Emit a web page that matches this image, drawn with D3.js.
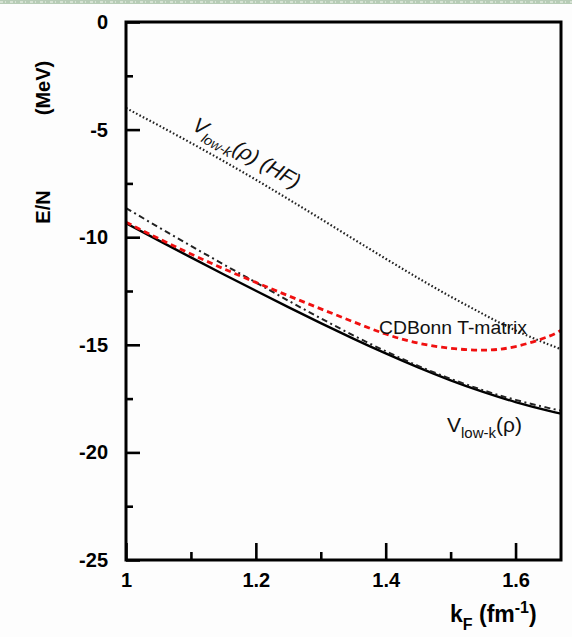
<!DOCTYPE html>
<html>
<head>
<meta charset="utf-8">
<script src="https://cdn.jsdelivr.net/npm/d3@7/dist/d3.min.js"></script>
<style>
  html, body { margin: 0; padding: 0; background: #fdfdfd; }
  svg { display: block; }
  text { font-family: "Liberation Sans", Arial, sans-serif; }
</style>
</head>
<body>
<svg id="chart" width="572" height="637"></svg>
<script>
// ---- data ----
const kF = [1.0, 1.05, 1.1, 1.15, 1.2, 1.25, 1.3, 1.35, 1.4, 1.45, 1.5, 1.55, 1.6, 1.65, 1.67];
const hfVlowk   = [-4.0, -4.8, -5.62, -6.46, -7.33, -8.23, -9.15, -10.08, -11.0, -11.9, -12.76, -13.57, -14.33, -14.97, -15.2];
const vlowk     = [-9.35, -10.15, -10.94, -11.72, -12.49, -13.25, -13.99, -14.71, -15.4, -16.05, -16.65, -17.19, -17.66, -18.06, -18.2];
const vlowkAlt  = [-8.65, -9.53, -10.4, -11.26, -12.1, -12.95, -13.77, -14.56, -15.3, -15.98, -16.58, -17.11, -17.56, -17.93, -18.06];
const cdbonnT   = [-9.3, -10.06, -10.78, -11.46, -12.1, -12.72, -13.33, -13.93, -14.5, -14.92, -15.16, -15.25, -15.08, -14.62, -14.32];

const xMajorTicks = [1, 1.2, 1.4, 1.6];
const xMinorTicks = [1.1, 1.3, 1.5];
const yMajorTicks = [0, -5, -10, -15, -20, -25];
const yMinorTicks = [-2.5, -7.5, -12.5, -17.5, -22.5];

// ---- layout ----
const svg = d3.select("#chart");
const L = 126, R = 561, T = 22, B = 560;
const x = d3.scaleLinear().domain([1, 1.67]).range([L, R]);
const y = d3.scaleLinear().domain([-25, 0]).range([B, T]);

// top decorative strip
const strip = svg.append("g");
strip.append("rect").attr("x", 0).attr("y", 0).attr("width", 572).attr("height", 4).attr("fill", "#b7ccb6");
strip.append("line").attr("x1", 0).attr("x2", 572).attr("y1", 2).attr("y2", 2)
  .attr("stroke", "#d6e2d4").attr("stroke-width", 2).attr("stroke-dasharray", "3,2,1,4");

// curves
const line = d3.line().x((d, i) => x(kF[i])).y(d => y(d)).curve(d3.curveNatural);
const plot = svg.append("g");
plot.append("path").datum(hfVlowk).attr("d", line).attr("fill", "none")
  .attr("stroke", "#222").attr("stroke-width", 2.2).attr("stroke-dasharray", "1.6,2.2");
plot.append("path").datum(vlowk).attr("d", line).attr("fill", "none")
  .attr("stroke", "#000").attr("stroke-width", 2.4);
plot.append("path").datum(vlowkAlt).attr("d", line).attr("fill", "none")
  .attr("stroke", "#222").attr("stroke-width", 2).attr("stroke-dasharray", "6,3.5,2,3.5");
plot.append("path").datum(cdbonnT).attr("d", line).attr("fill", "none")
  .attr("stroke", "#f01010").attr("stroke-width", 2.8).attr("stroke-dasharray", "6,4");

// axes (inward ticks)
function styleAxis(g) {
  g.select(".domain").remove();
  g.selectAll("line").attr("stroke", "#000").attr("stroke-width", 2.6);
  g.selectAll("text").attr("fill", "#000").attr("font-weight", "bold").attr("font-size", 20);
}
svg.append("g").attr("transform", `translate(0,${B})`)
  .call(d3.axisBottom(x).tickValues(xMajorTicks).tickSizeInner(-17).tickSizeOuter(0).tickPadding(13).tickFormat(d => String(d)))
  .call(styleAxis);
svg.append("g").attr("transform", `translate(0,${B})`)
  .call(d3.axisBottom(x).tickValues(xMinorTicks).tickSizeInner(-8).tickSizeOuter(0).tickFormat(""))
  .call(styleAxis);
svg.append("g").attr("transform", `translate(${L},0)`)
  .call(d3.axisLeft(y).tickValues(yMajorTicks).tickSizeInner(-14).tickSizeOuter(0).tickPadding(18).tickFormat(d => String(d)))
  .call(styleAxis);
svg.append("g").attr("transform", `translate(${L},0)`)
  .call(d3.axisLeft(y).tickValues(yMinorTicks).tickSizeInner(-7).tickSizeOuter(0).tickFormat(""))
  .call(styleAxis);

// frame
svg.append("rect").attr("x", L).attr("y", T).attr("width", R - L).attr("height", B - T)
  .attr("fill", "none").attr("stroke", "#000").attr("stroke-width", 3);

// axis titles
svg.append("text").attr("transform", "translate(50,207) rotate(-90)").attr("text-anchor", "middle")
  .attr("font-weight", "bold").attr("font-size", 20).text("E/N");
svg.append("text").attr("transform", "translate(50,88) rotate(-90)").attr("text-anchor", "middle")
  .attr("font-weight", "bold").attr("font-size", 20).text("(MeV)");

const xt = svg.append("text").attr("x", 450).attr("y", 622).attr("font-weight", "bold").attr("font-size", 23);
xt.append("tspan").text("k");
xt.append("tspan").attr("font-size", 16).attr("dy", 8).text("F");
xt.append("tspan").attr("dy", -8).text(" (fm");
xt.append("tspan").attr("font-size", 16).attr("dy", -9).text("-1");
xt.append("tspan").attr("dy", 9).text(")");

// curve labels
const hf = svg.append("text").attr("transform", "translate(191,129) rotate(30)")
  .attr("font-style", "italic").attr("font-size", 21).attr("fill", "#111");
hf.append("tspan").text("V");
hf.append("tspan").attr("font-size", 14).attr("dy", 6).text("low-k");
hf.append("tspan").attr("dy", -6).text("(ρ) (HF)");

svg.append("text").attr("x", 379).attr("y", 334).attr("font-size", 19).attr("fill", "#111")
  .attr("textLength", 148).attr("lengthAdjust", "spacingAndGlyphs").text("CDBonn T-matrix");

const vl = svg.append("text").attr("x", 447).attr("y", 432).attr("font-size", 21).attr("fill", "#111");
vl.append("tspan").text("V");
vl.append("tspan").attr("font-size", 15).attr("dy", 6).text("low-k");
vl.append("tspan").attr("dy", -6).text("(ρ)");
</script>
</body>
</html>
